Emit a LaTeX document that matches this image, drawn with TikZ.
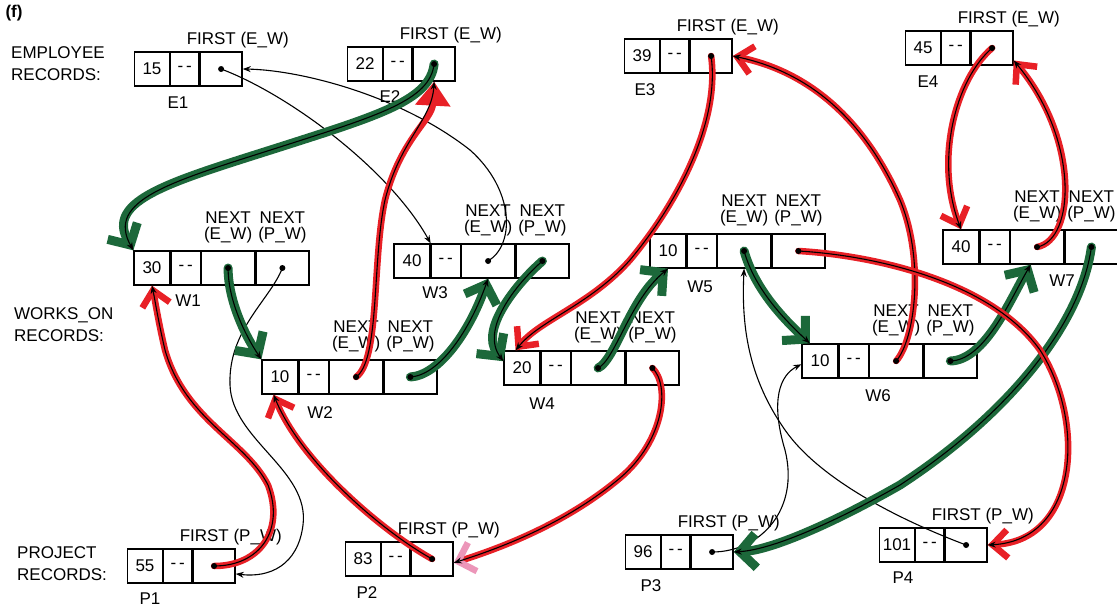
\documentclass[tikz,border=0pt]{standalone}
\usepackage{fontspec}
\setmainfont{Liberation Sans}
\usetikzlibrary{positioning,arrows.meta}

\definecolor{handred}{RGB}{232,32,38}
\definecolor{handgreen}{RGB}{28,104,58}
\definecolor{handpink}{RGB}{236,150,185}

\newcommand{\figfont}{\fontsize{17}{16.5}\selectfont}
\newcommand{\headfont}{\fontsize{17}{22}\selectfont}

\tikzset{
  cell/.style={draw, line width=1.3pt, inner sep=0pt, minimum height=34pt, font=\figfont},
  valcell/.style={cell, minimum width=35pt},
  dashcell/.style={cell, minimum width=28pt},
  firstcell/.style={cell, minimum width=42pt},
  wvalcell/.style={cell, minimum width=36pt},
  wdashcell/.style={cell, minimum width=29pt},
  nextcell/.style={cell, minimum width=53pt},
  fieldlbl/.style={inner sep=0pt, align=center, font=\figfont},
  namelbl/.style={inner sep=0pt, font=\figfont},
  headlbl/.style={inner sep=0pt, align=left, anchor=west, font=\headfont},
  ptr/.style={line width=1.1pt, -{Stealth[length=8pt,width=6pt]}},
  hand/.style={line cap=round, line join=round, postaction={draw=black, ptr}},
  redhand/.style={hand, draw=handred, line width=6.5pt, -{Straight Barb[length=15pt,width=28pt]}},
  greenhand/.style={hand, draw=handgreen, line width=9pt, -{Straight Barb[length=16pt,width=34pt]}},
}

% employee / project record: value, filler, FIRST pointer
\newcommand{\eprec}[4]{%
  \node[valcell] (#1v) at (#2) {#3};
  \node[dashcell, right=0pt of #1v] (#1d) {-\,-};
  \node[firstcell, right=0pt of #1d] (#1f) {};
  \node[fieldlbl, above=3pt of #1f.north east, xshift=-5pt] (#1fl) {FIRST (#4)};
}
% works_on record: hours, filler, two NEXT pointers
\newcommand{\wrec}[3]{%
  \node[wvalcell] (#1v) at (#2) {#3};
  \node[wdashcell, right=0pt of #1v] (#1d) {-\,-};
  \node[nextcell, right=0pt of #1d] (#1e) {};
  \node[nextcell, right=0pt of #1e] (#1p) {};
  \node[fieldlbl, above=7pt of #1e] (#1el) {NEXT\\(E\_W)};
  \node[fieldlbl, above=7pt of #1p] (#1pl) {NEXT\\(P\_W)};
}

\begin{document}
\begin{tikzpicture}[x=1pt, y=-1pt]
\useasboundingbox (0,0) rectangle (1117,611);

% row headings
\node[namelbl, font=\bfseries\figfont] (fig) at (14,13) {(f)};
\node[headlbl] (emp) at (11,64) {EMPLOYEE\\RECORDS:};
\node[headlbl] (works) at (14,325) {WORKS\_ON\\RECORDS:};
\node[headlbl] (proj) at (17,564) {PROJECT\\RECORDS:};

% employee records
\eprec{E1}{152,69}{15}{E\_W}
\eprec{E2}{365,64}{22}{E\_W}
\eprec{E3}{642,56}{39}{E\_W}
\eprec{E4}{923,48}{45}{E\_W}

% works_on records
\wrec{W1}{152,268}{30}
\wrec{W2}{280,377}{10}
\wrec{W3}{412,261}{40}
\wrec{W4}{522,368}{20}
\wrec{W5}{668,251}{10}
\wrec{W6}{820,361}{10}
\wrec{W7}{961,247}{40}

% project records
\eprec{P1}{145,566}{55}{P\_W}
\eprec{P2}{363,559}{83}{P\_W}
\eprec{P3}{643,552}{96}{P\_W}
\eprec{P4}{897,545}{101}{P\_W}

% record names
\node[namelbl] (E1n) at (178,103) {E1};
\node[namelbl] (E2n) at (390,97) {E2};
\node[namelbl] (E3n) at (645,90) {E3};
\node[namelbl] (E4n) at (928,82) {E4};
\node[namelbl] (W1n) at (188,301) {W1};
\node[namelbl] (W2n) at (320,413) {W2};
\node[namelbl] (W3n) at (435,293) {W3};
\node[namelbl] (W4n) at (542,404) {W4};
\node[namelbl] (W5n) at (700,287) {W5};
\node[namelbl] (W6n) at (878,396) {W6};
\node[namelbl] (W7n) at (1062,281) {W7};
\node[namelbl] (P1n) at (150,599) {P1};
\node[namelbl] (P2n) at (367,593) {P2};
\node[namelbl] (P3n) at (651,586) {P3};
\node[namelbl] (P4n) at (903,578) {P4};

% plain pointers
\draw[ptr] (E1f.center) .. controls (290,95) and (390,170) .. (W3d.north west);
\draw[ptr] (W3e.center) .. controls (515,245) and (515,190) .. (470,150)
  .. controls (400,95) and (300,70) .. (E1f.east);
\draw[ptr] (W1p.center) .. controls (270,300) and (228,330) .. (230,385)
  .. controls (232,440) and (310,470) .. (303,525)
  .. controls (298,565) and (270,578) .. (P1f.340);
\draw[ptr] (P4f.center) .. controls (900,520) and (820,480) .. (785,430)
  .. controls (750,380) and (741,330) .. (W5e.south);
\draw[ptr] (P3f.center) .. controls (760,552) and (800,510) .. (785,450)
  .. controls (770,400) and (780,375) .. (W6v.190);

% green marker
\draw[greenhand] (E2f.center) .. controls (430,100) and (380,115) .. (280,147)
  .. controls (170,182) and (105,200) .. (W1v.north west);
\draw[greenhand] (W1e.center) .. controls (228,300) and (245,335) .. (W2v.north west);
\draw[greenhand] (W2p.center) .. controls (440,375) and (470,330) .. (W3e.south);
\draw[greenhand] (W3p.center) .. controls (515,285) and (480,330) .. (W4v.160);
\draw[greenhand] (W4e.center) .. controls (615,360) and (630,300) .. (W5v.south);
\draw[greenhand] (W5e.center) .. controls (755,290) and (785,320) .. (W6v.120);
\draw[greenhand] (W6p.center) .. controls (985,360) and (1010,300) .. (W7e.250);
\draw[greenhand] (W7p.center) .. controls (1080,330) and (1000,420) .. (900,485)
  .. controls (830,525) and (770,550) .. (P3f.east);

% red marker
\draw[redhand, -{Triangle[length=24pt,width=34pt]}] (W2e.center) .. controls (380,360) and (372,260) .. (385,200)
  .. controls (400,140) and (432,120) .. (E2f.south);
\draw[redhand] (P1f.center) .. controls (260,566) and (285,530) .. (268,485)
  .. controls (245,440) and (185,420) .. (165,350)
  .. controls (158,320) and (155,300) .. (W1v.south);
\draw[redhand] (P2f.center) .. controls (380,530) and (300,460) .. (W2v.250);
\draw[redhand, -{Straight Barb[length=15pt,width=30pt,color=handpink]}] (W4p.center) .. controls (670,385) and (665,440) .. (620,478)
  .. controls (570,520) and (510,545) .. (P2f.350);
\draw[redhand] (E3f.center) .. controls (720,120) and (680,200) .. (630,260)
  .. controls (590,305) and (540,320) .. (W4v.110);
\draw[redhand] (W6e.center) .. controls (915,340) and (925,260) .. (900,200)
  .. controls (860,110) and (800,70) .. (E3f.east);
\draw[redhand] (W5p.center) .. controls (870,255) and (990,280) .. (1040,350)
  .. controls (1085,420) and (1080,540) .. (P4f.east);
\draw[redhand] (E4f.center) .. controls (955,80) and (935,160) .. (W7v.north);
\draw[redhand] (W7e.center) .. controls (1075,240) and (1080,140) .. (E4f.330);

% pointer dots
\foreach \c in {E1f,E2f,E3f,E4f,P1f,P2f,P3f,P4f,W1e,W1p,W2e,W2p,W3e,W3p,W4e,W4p,W5e,W5p,W6e,W6p,W7e,W7p}
  \fill (\c.center) circle (3pt);
\end{tikzpicture}
\end{document}
